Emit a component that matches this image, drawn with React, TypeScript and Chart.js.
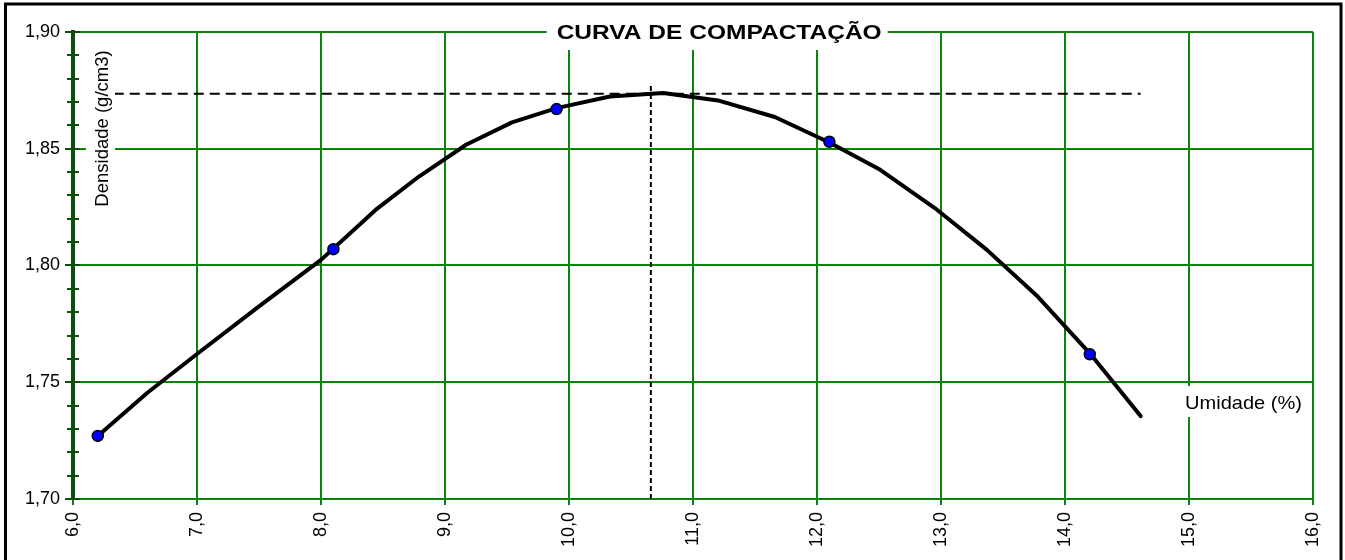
import React, { useEffect, useRef } from 'react';
import { Chart, registerables } from 'chart.js';

Chart.register(...registerables);

// ---- data ----
const measuredMoisture = [6.2, 8.1, 9.9, 12.1, 14.2];
const measuredDensity = [1.727, 1.807, 1.867, 1.853, 1.762];

const curveMoisture = [6.2, 6.6, 7.0, 7.5, 8.0, 8.44, 8.79, 9.17, 9.54, 9.9, 10.33, 10.76, 11.2, 11.66, 12.1, 12.51, 12.95, 13.37, 13.78, 14.2, 14.61];
const curveDensity = [1.727, 1.7455, 1.7621, 1.7825, 1.8024, 1.8238, 1.8381, 1.8517, 1.8613, 1.8674, 1.8724, 1.8739, 1.8707, 1.8636, 1.8527, 1.841, 1.8246, 1.8067, 1.7867, 1.7624, 1.7355];

const optimumMoisture = 10.66;
const maxDensity = 1.8736;
const optimumLineTop = 1.8775;

const xTicks = [6, 7, 8, 9, 10, 11, 12, 13, 14, 15, 16];
const yTicks = [1.7, 1.75, 1.8, 1.85, 1.9];
const yMinorTicks = [1.71, 1.72, 1.73, 1.74, 1.76, 1.77, 1.78, 1.79, 1.81, 1.82, 1.83, 1.84, 1.86, 1.87, 1.88, 1.89];

const chartTitle = 'CURVA DE COMPACTAÇÃO';
const yAxisTitle = 'Densidade (g/cm3)';
const xAxisTitle = 'Umidade (%)';

// ---- styles ----
const FONT = '"Liberation Sans", Arial, Helvetica, sans-serif';
const gridGreen = '#0a850a';
const axisDark = '#0b4d0b';

const decorPlugin = {
  id: 'decor',
  beforeDraw(chart: any) {
    const ctx = chart.ctx;
    ctx.save();
    ctx.fillStyle = '#ffffff';
    ctx.fillRect(0, 0, chart.width, chart.height);
    ctx.restore();
  },
  afterDatasetsDraw(chart: any) {
    const ctx = chart.ctx;
    const area = chart.chartArea;
    const yScale = chart.scales.y;
    ctx.save();

    // minor / cross ticks on the y axis
    ctx.strokeStyle = axisDark;
    ctx.lineWidth = 2;
    ctx.beginPath();
    yMinorTicks.forEach((v) => {
      const py = Math.round(yScale.getPixelForValue(v));
      ctx.moveTo(area.left - 6, py);
      ctx.lineTo(area.left + 6, py);
    });
    yTicks.forEach((v) => {
      const py = Math.round(yScale.getPixelForValue(v));
      ctx.moveTo(area.left, py);
      ctx.lineTo(area.left + 7, py);
    });
    ctx.stroke();

    // title with white backdrop (bold, slightly widened)
    ctx.font = `bold 21px ${FONT}`;
    ctx.textBaseline = 'alphabetic';
    ctx.textAlign = 'left';
    const tw = ctx.measureText(chartTitle).width;
    const targetW = 325;
    const cx = area.left + (area.right - area.left) * 0.5211;
    const tx = cx - targetW / 2;
    ctx.fillStyle = '#ffffff';
    ctx.fillRect(tx - 10, 14, targetW + 16, 36);
    ctx.save();
    ctx.translate(tx, 38.5);
    ctx.scale(targetW / tw, 1);
    ctx.fillStyle = '#000000';
    ctx.fillText(chartTitle, 0, 0);
    ctx.restore();

    // y axis title (rotated) with backdrop
    ctx.font = `18.5px ${FONT}`;
    ctx.fillStyle = '#ffffff';
    ctx.fillRect(86, 45, 29, 168);
    ctx.save();
    ctx.translate(108, 128.5);
    ctx.rotate(-Math.PI / 2);
    ctx.textAlign = 'center';
    ctx.fillStyle = '#000000';
    ctx.fillText(yAxisTitle, 0, 0);
    ctx.restore();

    // x axis title with backdrop
    ctx.font = `18.5px ${FONT}`;
    ctx.textAlign = 'left';
    const uw = ctx.measureText(xAxisTitle).width;
    ctx.fillStyle = '#ffffff';
    ctx.fillRect(1182, 386, 124, 31);
    ctx.save();
    ctx.translate(1185, 408.5);
    ctx.scale(117 / uw, 1);
    ctx.fillStyle = '#000000';
    ctx.fillText(xAxisTitle, 0, 0);
    ctx.restore();

    ctx.restore();
  },
  afterDraw(chart: any) {
    const ctx = chart.ctx;
    ctx.save();
    ctx.strokeStyle = '#000000';
    ctx.lineWidth = 3;
    ctx.strokeRect(5.5, 4, 1335.5, 600);
    ctx.restore();
  },
};

export default function App() {
  const canvasRef = useRef<HTMLCanvasElement | null>(null);

  useEffect(() => {
    const canvas = canvasRef.current;
    if (!canvas) return;

    const points = measuredMoisture.map((x, i) => ({ x, y: measuredDensity[i] }));
    const curve = curveMoisture.map((x, i) => ({ x, y: curveDensity[i] }));
    const hLine = [
      { x: curveMoisture[0], y: maxDensity },
      { x: curveMoisture[curveMoisture.length - 1], y: maxDensity },
    ];
    const vLine = [
      { x: optimumMoisture, y: yTicks[0] },
      { x: optimumMoisture, y: optimumLineTop },
    ];

    const tickFont = { family: FONT, size: 18 };

    const chart = new Chart(canvas, {
      type: 'line',
      data: {
        datasets: [
          {
            label: 'Ensaios',
            data: points,
            showLine: false,
            pointRadius: 5.5,
            pointBackgroundColor: '#0000ff',
            pointBorderColor: '#000000',
            pointBorderWidth: 1.5,
            order: 0,
          },
          {
            label: 'Curva',
            data: curve,
            borderColor: '#000000',
            borderWidth: 4,
            pointRadius: 0,
            tension: 0,
            borderCapStyle: 'round',
            borderJoinStyle: 'round',
            order: 1,
          },
          {
            label: 'Densidade máxima',
            data: hLine,
            borderColor: '#000000',
            borderWidth: 2,
            borderDash: [10, 6],
            pointRadius: 0,
            order: 2,
          },
          {
            label: 'Umidade ótima',
            data: vLine,
            borderColor: '#000000',
            borderWidth: 2,
            borderDash: [5, 3],
            pointRadius: 0,
            order: 2,
          },
        ],
      } as any,
      options: {
        responsive: false,
        animation: false,
        events: [],
        layout: { padding: { top: 32, right: 32, left: 0, bottom: 0 } },
        plugins: {
          legend: { display: false },
          tooltip: { enabled: false },
          title: { display: false },
        },
        scales: {
          x: {
            type: 'linear',
            min: 6,
            max: 16,
            afterBuildTicks: (s: any) => {
              s.ticks = xTicks.map((v) => ({ value: v }));
            },
            afterFit: (s: any) => {
              s.height = 61;
            },
            ticks: {
              callback: (v: any) => Number(v).toFixed(1).replace('.', ','),
              minRotation: 90,
              maxRotation: 90,
              autoSkip: false,
              padding: 7,
              color: '#000000',
              font: tickFont,
            },
            grid: { color: gridGreen, lineWidth: 2, tickLength: 6, tickColor: gridGreen },
            border: { color: gridGreen, width: 2 },
          },
          y: {
            type: 'linear',
            min: 1.7,
            max: 1.9,
            afterBuildTicks: (s: any) => {
              s.ticks = yTicks.map((v) => ({ value: v }));
            },
            afterFit: (s: any) => {
              s.width = 73;
            },
            ticks: {
              callback: (v: any) => Number(v).toFixed(2).replace('.', ','),
              padding: 5,
              color: '#000000',
              font: tickFont,
            },
            grid: { color: gridGreen, lineWidth: 2, tickLength: 8, tickColor: axisDark },
            border: { color: axisDark, width: 4 },
          },
        },
      } as any,
      plugins: [decorPlugin],
    });

    return () => {
      chart.destroy();
    };
  }, []);

  return (
    <div style={{ position: 'fixed', left: 0, top: 0, width: 1345, height: 560, background: '#ffffff' }}>
      <canvas ref={canvasRef} width={1345} height={560} style={{ display: 'block' }} />
    </div>
  );
}
